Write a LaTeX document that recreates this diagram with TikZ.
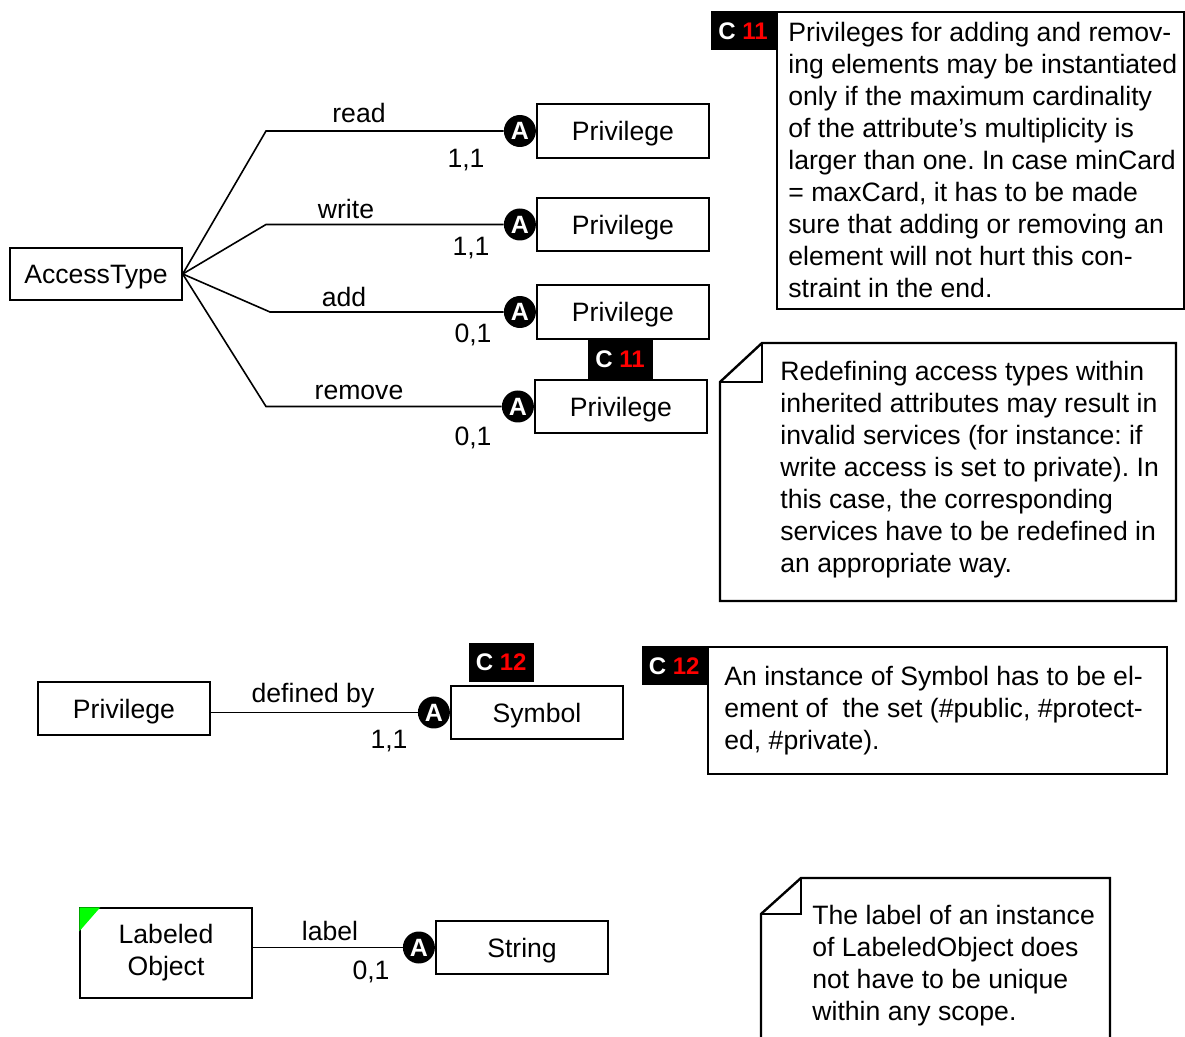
\documentclass[tikz,border=0pt]{standalone}
\usepackage{fontspec}
\setmainfont{Liberation Sans}
\usetikzlibrary{positioning}
\frenchspacing

\begin{document}
\begin{tikzpicture}[
  x=0.5pt, y=-0.5pt,
  every node/.style={font=\fontsize{13.3}{16}\selectfont},
  box/.style={rectangle, draw, line width=0.7pt, minimum width=86pt, minimum height=26.5pt, inner sep=0pt, text height=10pt, text depth=0pt},
  attr/.style={circle, fill=black, text=white, inner sep=0pt, minimum size=16pt, font=\fontsize{12.5}{12.5}\selectfont\bfseries},
  badge/.style={rectangle, fill=black, text=white, minimum width=32.5pt, minimum height=19.5pt, inner sep=0pt, font=\fontsize{12}{12}\selectfont\bfseries},
  lbl/.style={anchor=base, inner sep=0pt},
  note/.style={draw, line width=1.2pt},
  notetext/.style={anchor=north west, inner sep=0pt, align=left},
  conn/.style={line width=0.8pt}
]
\clip (0,0) rectangle (1185,1037);
\node[box, minimum height=26pt] (acc) at (96,274) {AccessType};
\node[box, minimum height=27pt] (p1) at (623,131) {Privilege};
\node[box] (p2) at (623,224.5) {Privilege};
\node[box, minimum height=27pt] (p3) at (623,312) {Privilege};
\node[box] (p4) at (621,406.5) {Privilege};
\node[attr, left=0pt of p1] (a1) {A};
\node[attr, left=0pt of p2] (a2) {A};
\node[attr, left=0pt of p3] (a3) {A};
\node[attr, left=0pt of p4] (a4) {A};
\coordinate (k1) at (266,0);
\coordinate (k3) at (270,0);
\draw[conn] (acc.east) -- (k1 |- a1) -- (a1);
\draw[conn] (acc.east) -- (k1 |- a2) -- (a2);
\draw[conn] (acc.east) -- (k3 |- a3) -- (a3);
\draw[conn] (acc.east) -- (k1 |- a4) -- (a4);
\node[lbl] (rd) at (359,123) {read};
\node[lbl] (m1) at (466,168) {1,1};
\node[lbl] (wr) at (346,219) {write};
\node[lbl] (m2) at (471,256) {1,1};
\node[lbl] (ad) at (344,307) {add};
\node[lbl] (m3) at (473,343) {0,1};
\node[lbl] (rm) at (359,400) {remove};
\node[lbl] (m4) at (473,446) {0,1};
\node[badge, below=0pt of p3, xshift=-1.5pt] (c11b) {C \textcolor{red}{11}};

\node[note, anchor=north west, minimum width=203.5pt, minimum height=148.5pt] (n1) at (776,11) {};
\node[badge, anchor=north east] (c11a) at (n1.north west) {C \textcolor{red}{11}};
\node[notetext] (t1) at (788,21.6) {Privileges for adding and remov-\\ing elements may be instantiated\\only if the maximum cardinality\\of the attribute’s multiplicity is\\larger than one. In case minCard\\= maxCard, it has to be made\\sure that adding or removing an\\element will not hurt this con-\\straint in the end.};

\draw[note] (762,343) -- (1176,343) -- (1176,601) -- (720,601) -- (720,382) -- cycle;
\draw[note] (762,343) -- (762,382) -- (720,382);
\node[notetext] (t2) at (780,360.6) {Redefining access types within\\inherited attributes may result in\\invalid services (for instance: if\\write access is set to private). In\\this case, the corresponding\\services have to be redefined in\\an appropriate way.};

\node[box] (pr) at (124,708.5) {Privilege};
\node[box] (sym) at (537,712.5) {Symbol};
\node[attr, left=0pt of sym] (a5) {A};
\draw[conn] (pr.east |- a5) -- (a5);
\node[lbl] (df) at (313,703) {defined by};
\node[lbl] (m5) at (389,748) {1,1};
\node[badge, anchor=south west, xshift=9pt, yshift=1.5pt] (c12a) at (sym.north west) {C \textcolor{red}{12}};

\node[note, anchor=north west, minimum width=229.5pt, minimum height=63.5pt] (n3) at (707,646) {};
\node[badge, anchor=north east] (c12b) at (n3.north west) {C \textcolor{red}{12}};
\node[notetext] (t3) at (724,665.6) {An instance of Symbol has to be el-\\ement of\ \ the set (\#public, \#protect-\\ed, \#private).};

\node[box, minimum height=45pt, align=center, text height=, text depth=] (lo) at (166,953) {\raisebox{-1.5pt}{Labeled}\\\raisebox{-1.5pt}{Object}};
\fill[green] (lo.north west) -- ++(21,0) -- ++(-21,24) -- cycle;
\node[box] (str) at (522,947.5) {String};
\node[attr, left=0pt of str] (a6) {A};
\draw[conn] (lo.east |- a6) -- (a6);
\node[lbl] (lb) at (330,940) {label};
\node[lbl] (m6) at (371,979) {0,1};

\draw[note] (801,878) -- (1110,878) -- (1110,1050) -- (761,1050) -- (761,914) -- cycle;
\draw[note] (801,878) -- (801,914) -- (761,914);
\node[notetext] (t4) at (812,904.6) {The label of an instance\\of LabeledObject does\\not have to be unique\\within any scope.};
\end{tikzpicture}
\end{document}
